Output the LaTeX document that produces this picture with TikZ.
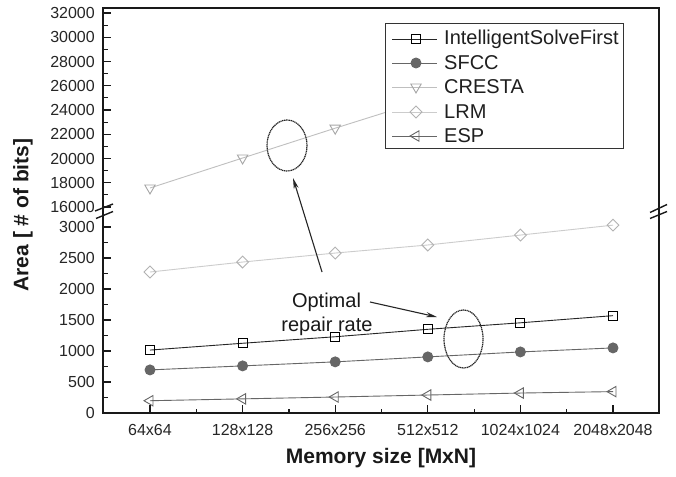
\documentclass[tikz,border=0pt]{standalone}
\usepackage{fontspec}
\setmainfont{Liberation Sans}
\usetikzlibrary{plotmarks,arrows.meta,shapes.geometric}

\tikzset{
  frame/.style={line width=1.6pt, draw=black!90},
  tick/.style={line width=1.2pt, draw=black!90},
  ticklabel/.style={font=\fontsize{16}{18}\selectfont, text=black!85, inner sep=0pt},
  axistitle/.style={font=\bfseries\fontsize{21}{24}\selectfont, text=black!90, inner sep=0pt},
  legtext/.style={font=\fontsize{20}{22}\selectfont, text=black!88, anchor=west, inner sep=0pt},
  isf/.style={draw=black!85, line width=0.9pt, mark=square, mark size=4.5pt,
    mark options={fill=white, draw=black, line width=1pt}},
  sfcc/.style={draw=black!60, line width=0.9pt, mark=*, mark size=5pt,
    mark options={fill=black!60, draw=black!60}},
  cresta/.style={draw=black!25, line width=0.9pt, mark=triangle, mark size=6pt,
    mark options={rotate=180, fill=white, draw=black!35, line width=0.9pt}},
  lrm/.style={draw=black!20, line width=0.9pt, mark=square, mark size=4.2pt,
    mark options={rotate=45, fill=white, draw=black!30, line width=0.9pt}},
  esp/.style={draw=black!60, line width=0.9pt, mark=triangle, mark size=6pt,
    mark options={rotate=90, fill=white, draw=black!60, line width=0.9pt}},
  ring/.style={draw=black!85, line width=1.2pt, dash pattern=on 1.2pt off 0.6pt,
    ellipse, inner sep=0pt},
  pointer/.style={draw=black!85, line width=1.1pt, -{Stealth[length=11pt, width=5pt]}},
  note/.style={font=\fontsize{20}{22}\selectfont, text=black!90, inner sep=0pt, anchor=base},
}

\begin{document}
\begin{tikzpicture}[x=1pt, y=-1pt]
\useasboundingbox[fill=white] (0,0) rectangle (676,476);

% ---------- data (lower section: 0..3000, upper section: 16000..32000 in thousands)
\begin{scope}[shift={(0,413)}, y=0.062pt]
  \draw[lrm]  plot coordinates {(150,2274) (242.6,2435) (335.2,2580) (427.8,2710) (520.4,2870) (613,3030)};
  \draw[esp]  plot coordinates {(150,198) (242.6,228) (335.2,258) (427.8,290) (520.4,322) (613,345)};
  \draw[sfcc] plot coordinates {(150,695) (242.6,760) (335.2,825) (427.8,905) (520.4,985) (613,1050)};
  \draw[isf]  plot coordinates {(150,1015) (242.6,1125) (335.2,1230) (427.8,1350) (520.4,1455) (613,1570)};
\end{scope}
\begin{scope}[shift={(0,401)}, y=12.125pt]
  \draw[cresta] plot coordinates {(150,17.567) (242.6,20.04) (335.2,22.5) (427.8,24.9) (520.4,27.3) (613,29.7)};
\end{scope}

% ---------- axes frame
\draw[frame] (103,8) rectangle (659,413);

% left axis ticks, upper part
\foreach \v in {16,...,32}{
  \pgfmathsetmacro{\yy}{401-12.125*\v}
  \pgfmathsetmacro{\len}{ifthenelse(mod(\v,2)==0,8,4.5)}
  \draw[tick] (103,\yy) -- ++(\len,0);
}
\foreach \v in {16,18,...,32}{
  \pgfmathsetmacro{\yy}{401-12.125*\v}
  \node[ticklabel, anchor=east] (yu\v) at (95,\yy) {\v000};
}
% left axis ticks, lower part
\foreach \v in {0,250,...,3000}{
  \pgfmathsetmacro{\yy}{413-0.062*\v}
  \pgfmathsetmacro{\len}{ifthenelse(mod(\v,500)==0,8,4.5)}
  \draw[tick] (103,\yy) -- ++(\len,0);
}
\foreach \v in {0,500,...,3000}{
  \pgfmathsetmacro{\yy}{413-0.062*\v}
  \node[ticklabel, anchor=east] (yl\v) at (95,\yy) {\v};
}

% axis break marks
\draw[line width=1.4pt, draw=black!90] (95,211) -- (113,204);
\draw[line width=1.4pt, draw=black!90] (96,218.5) -- (113,211.5);
\draw[line width=1.4pt, draw=black!90] (650,212.5) -- (667,204.5);
\draw[line width=1.4pt, draw=black!90] (650,218.5) -- (667,211.5);

% bottom axis ticks and category labels
\foreach \lab [count=\i from 0] in {64x64,128x128,256x256,512x512,1024x1024,2048x2048}{
  \pgfmathsetmacro{\xx}{150+92.6*\i}
  \draw[tick] (\xx,413) -- ++(0,-8);
  \node[ticklabel] (xl\i) at (\xx,430) {\lab};
}
\foreach \i in {0,...,4}{
  \pgfmathsetmacro{\xx}{196.3+92.6*\i}
  \draw[tick] (\xx,413) -- ++(0,-4.5);
}

% axis titles
\node[axistitle] (xtitle) at (381,458) {Memory size [MxN]};
\node[axistitle, rotate=90] (ytitle) at (23,215) {Area [ \# of bits]};

% ---------- legend
\draw[draw=black!80, line width=1pt, fill=white] (385,24) rectangle (623,148);
\foreach \sty/\txt/\yy [count=\k] in {isf/IntelligentSolveFirst/39, sfcc/SFCC/63, cresta/CRESTA/87, lrm/LRM/112, esp/ESP/136}{
  \draw[\sty, mark=none] (392,\yy) -- (437,\yy);
  \draw[\sty] plot coordinates {(416,\yy)};
  \node[legtext] (leg\k) at (444,\yy) {\txt};
}

% ---------- annotation
\node[ring, minimum width=40pt, minimum height=51pt] (ringA) at (287,145.5) {};
\node[ring, minimum width=39pt, minimum height=58pt] (ringB) at (463.5,339) {};
\node[note] (opt1) at (326.5,307) {Optimal};
\node[note] (opt2) at (327,331) {repair rate};
\coordinate (tailA) at (322,272);
\coordinate (tailB) at (370,302);
\coordinate (tipA) at (293,178);
\coordinate (tipB) at (437,317);
\draw[pointer] (tailA) -- (tipA);
\draw[pointer] (tailB) -- (tipB);
\end{tikzpicture}
\end{document}
